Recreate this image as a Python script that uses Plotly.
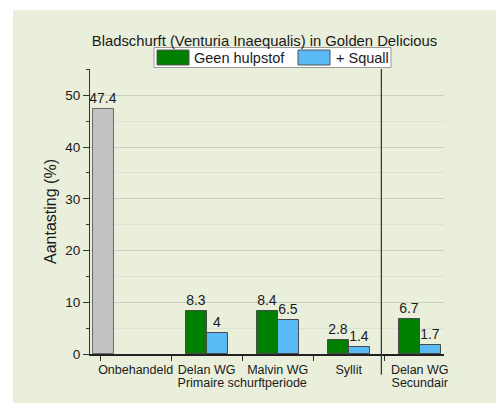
import plotly.graph_objects as go

# ---- data ----
periods = ["Primaire schurftperiode"] * 4 + ["Secundair"]
products = ["Onbehandeld", "Delan WG", "Malvin WG", "Syllit", "Delan WG"]

untreated_period = ["Primaire schurftperiode"]
untreated_product = ["Onbehandeld"]
untreated_values = [47.4]

treated_periods = periods[1:]
treated_products = products[1:]
geen_hulpstof = [8.3, 8.4, 2.8, 6.7]
plus_squall = [4, 6.5, 1.4, 1.7]

series_names = ["Geen hulpstof", "+ Squall"]
title_text = "Bladschurft (Venturia Inaequalis) in Golden Delicious"
y_title = "Aantasting (%)"

# ---- styles ----
BG = "#E9EFDB"
GREEN = "#007F00"
BLUE = "#5ABAF5"
GRAY = "#C2C2C2"
EDGE = "#4a4a4a"
TXT = "#1a1a1a"
FONT = "Liberation Sans, Arial, sans-serif"

# page body has an 8px margin: work in page coordinates, convert to figure
OFF = 8
W, H = 504 - OFF, 403 - OFF
PL, PR, PT, PB = 90, 444, 69, 354.3       # plot area in page pixels
L, T = PL - OFF, PT - OFF
R = W - (PR - OFF)
B = H - (PB - OFF)
pw, ph = W - L - R, H - T - B

def px2paper_x(px):
    return (px - OFF - L) / pw

def py2paper_y(py):
    return (H - B - (py - OFF)) / ph

fig = go.Figure()

common_text = dict(textposition="outside", textfont=dict(size=14, color=TXT),
                   cliponaxis=False, constraintext="none")

fig.add_trace(go.Bar(
    x=[untreated_period, untreated_product], y=untreated_values,
    marker=dict(color=GRAY, line=dict(color="#6a6a6a", width=1)),
    offset=-0.60, width=0.30,
    text=untreated_values, showlegend=False, name="Onbehandeld",
    **common_text,
))
fig.add_trace(go.Bar(
    x=[treated_periods, treated_products], y=geen_hulpstof,
    name=series_names[0], showlegend=False,
    marker=dict(color=GREEN, line=dict(color=EDGE, width=1)),
    offset=-0.296, width=0.296,
    text=geen_hulpstof, **common_text,
))
fig.add_trace(go.Bar(
    x=[treated_periods, treated_products], y=plus_squall,
    name=series_names[1], showlegend=False,
    marker=dict(color=BLUE, line=dict(color=EDGE, width=1)),
    offset=0.0, width=0.296,
    text=plus_squall, **common_text,
))

# ---- legend box drawn as layout decoration (wide swatches as in original) ----
def prect(x0, x1, y0, y1, fill, line_color, lw=1):
    return dict(type="rect", xref="paper", yref="paper", layer="above",
                x0=px2paper_x(x0), x1=px2paper_x(x1),
                y0=py2paper_y(y1), y1=py2paper_y(y0),
                fillcolor=fill, line=dict(color=line_color, width=lw))

legend_shapes = [
    prect(154, 391, 47.5, 67.5, "white", "#9a9a9a"),
    prect(157, 189, 50, 65, GREEN, "#555"),
    prect(298, 330, 50, 65, BLUE, "#555"),
]
legend_annots = [
    dict(text=series_names[0], xref="paper", yref="paper",
         x=px2paper_x(192), y=py2paper_y(57.8), xanchor="left", yanchor="middle",
         showarrow=False, font=dict(size=14.5, color=TXT)),
    dict(text=series_names[1], xref="paper", yref="paper",
         x=px2paper_x(334), y=py2paper_y(57.8), xanchor="left", yanchor="middle",
         showarrow=False, font=dict(size=14.5, color=TXT)),
]

fig.update_layout(
    width=W, height=H,
    margin=dict(l=L, r=R, t=T, b=B, autoexpand=False),
    paper_bgcolor="white",
    plot_bgcolor="rgba(0,0,0,0)",
    font=dict(family=FONT, size=12, color=TXT),
    barmode="overlay",
    showlegend=False,
    title=dict(text=title_text, xref="container", x=(264.5 - OFF) / W,
               xanchor="center", yref="container", y=1 - (41 - OFF) / H,
               yanchor="middle", font=dict(size=14.8, color=TXT)),
    shapes=[
        dict(type="rect", xref="paper", yref="paper", layer="below",
             x0=px2paper_x(13), x1=px2paper_x(520),
             y0=py2paper_y(420), y1=py2paper_y(10),
             fillcolor=BG, line=dict(width=0)),
        dict(type="line", xref="x", yref="paper",
             x0=3.46, x1=3.46, y0=py2paper_y(375), y1=1,
             line=dict(color="#333", width=1.2)),
    ] + legend_shapes,
    annotations=legend_annots,
    bargap=0,
)

fig.update_yaxes(
    range=[0, 55.1], dtick=10, tick0=0,
    showline=True, linecolor="#333", linewidth=1.2,
    ticks="outside", ticklen=6, tickcolor="#333",
    minor=dict(ticks="outside", ticklen=3, dtick=5, tickcolor="#333",
               showgrid=True, gridcolor="rgba(200,205,190,0.35)"),
    showgrid=True, gridcolor="#CACFC0", gridwidth=1,
    zeroline=False, automargin=False,
    tickfont=dict(size=13.5, color=TXT),
    title=dict(text=y_title, font=dict(size=16, color=TXT), standoff=4),
)

fig.update_xaxes(
    type="multicategory",
    range=[-0.643, 4.342],
    showline=True, linecolor="#222", linewidth=1.5,
    ticks="outside", ticklen=5, tickcolor="#333",
    tickangle=0, automargin=False,
    ticklabelstandoff=3,
    showdividers=False,
    showgrid=False, zeroline=False,
    tickfont=dict(size=12.5, color=TXT),
)

fig.write_html("out.html")
